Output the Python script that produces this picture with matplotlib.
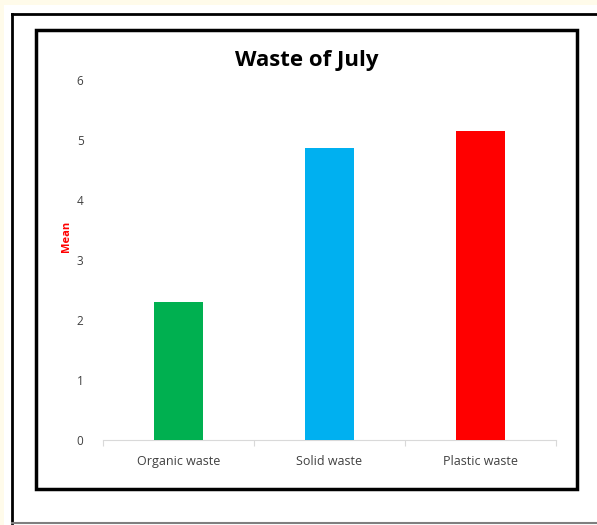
import matplotlib
matplotlib.use('Agg')
import matplotlib.pyplot as plt
from matplotlib.patches import Rectangle
from matplotlib.lines import Line2D

# Mean amount of waste per category for July
categories = ['Organic waste', 'Solid waste', 'Plastic waste']
means = [2.3, 4.87, 5.15]
bar_colors = ['#00B050', '#00B0F0', '#FF0000']
y_ticks = [0, 1, 2, 3, 4, 5, 6]

plt.rcParams['font.family'] = ['Open Sans', 'DejaVu Sans']

W, H = 597, 525
fig = plt.figure(figsize=(W / 100, H / 100), dpi=100)
fig.patch.set_facecolor('#FFFBEA')


def px_rect(x0, y0, x1, y1, **kw):
    # rectangle in pixel coordinates (origin top-left)
    return Rectangle((x0 / W, 1 - y1 / H), (x1 - x0) / W, (y1 - y0) / H,
                     transform=fig.transFigure, **kw)


# white page area
fig.patches.append(px_rect(4, 5, W + 5, H + 5, facecolor='white', edgecolor='none', zorder=0))
# outer border: black top/left, grey bottom
fig.lines.append(Line2D([12 / W, 12 / W], [1 - 14 / H, 1 - 523 / H], transform=fig.transFigure,
                        color='black', lw=2.0))
fig.lines.append(Line2D([12 / W, 1], [1 - 14 / H, 1 - 14 / H], transform=fig.transFigure,
                        color='black', lw=2.0))
fig.lines.append(Line2D([12 / W, 1], [1 - 523 / H, 1 - 523 / H], transform=fig.transFigure,
                        color='#7F7F7F', lw=1.5))
# chart frame
fig.patches.append(px_rect(36, 30, 577, 489, facecolor='white', edgecolor='black', lw=2.5, zorder=1))

ax = fig.add_axes([103 / W, (H - 440) / H, 453 / W, 360 / H])
ax.set_zorder(2)
ax.patch.set_alpha(0)

x = range(len(categories))
ax.bar(x, means, width=0.32, color=bar_colors, zorder=3)

ax.set_xlim(-0.5, 2.5)
ax.set_ylim(0, 6)
ax.set_yticks(y_ticks)
ax.set_xticks(list(x))
ax.set_xticklabels(categories, fontsize=9, color='#404040')
ax.set_xticks([-0.5, 0.5, 1.5, 2.5], minor=True)
ax.tick_params(axis='x', which='major', length=0, pad=11)
ax.tick_params(axis='x', which='minor', length=4, color='#D9D9D9', width=0.8)
ax.tick_params(axis='y', length=0, pad=14, labelsize=8.5, labelcolor='#404040')

for side in ['top', 'right', 'left']:
    ax.spines[side].set_visible(False)
ax.spines['bottom'].set_color('#D9D9D9')
ax.spines['bottom'].set_linewidth(0.8)

fig.text(67 / W, 1 - 236 / H, 'Mean', rotation=90, ha='center', va='center',
         color='#FF0000', fontsize=8, fontweight='bold')
fig.text(307 / W, 1 - 66 / H, 'Waste of July', ha='center', va='baseline',
         fontsize=16, fontweight='bold', color='black')

fig.savefig('out.png', dpi=100)
